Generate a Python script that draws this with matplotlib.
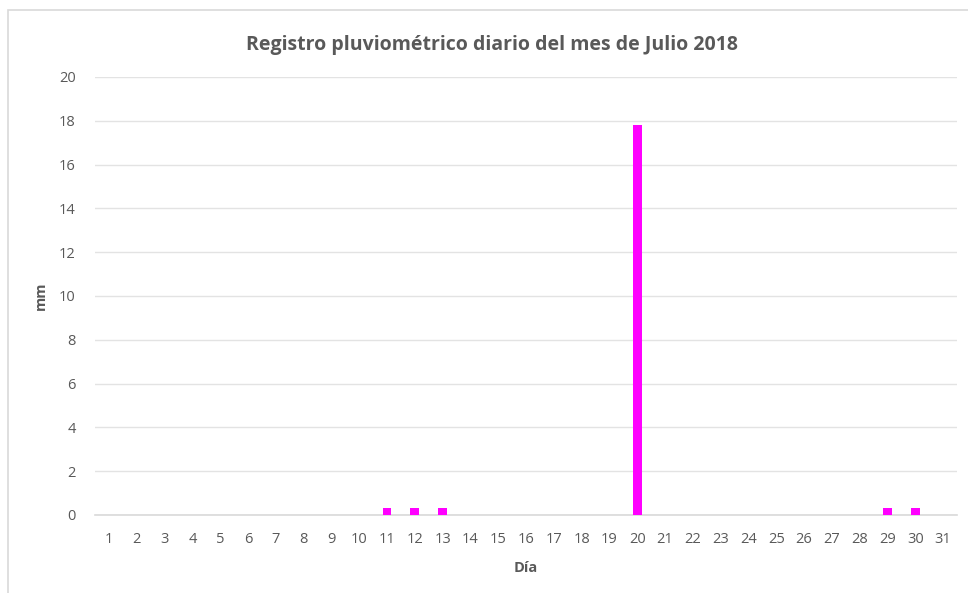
import matplotlib
matplotlib.use("Agg")
import matplotlib.pyplot as plt
from matplotlib.patches import Rectangle

days = list(range(1, 32))
rain_mm = [0]*31
rain_mm[10] = 0.3
rain_mm[11] = 0.3
rain_mm[12] = 0.3
rain_mm[19] = 17.8
rain_mm[28] = 0.3
rain_mm[29] = 0.3
y_ticks = list(range(0, 21, 2))

plt.rcParams['font.family'] = ['Open Sans', 'DejaVu Sans']

fig = plt.figure(figsize=(9.68, 5.93), dpi=100)
fig.patches.append(Rectangle((8/968, -0.1), 1.0, 1 - 10/593 + 0.1, transform=fig.transFigure,
                             fill=False, edgecolor='#d9d9d9', linewidth=1.2))
ax = fig.add_axes([95/968, 1 - 515/593, (957 - 95)/968, (515 - 77)/593])

ax.bar(days, rain_mm, width=0.32, color='#ff00ff', zorder=3)
ax.set_xlim(0.5, 31.5)
ax.set_ylim(0, 20)
ax.set_yticks(y_ticks)
ax.set_xticks(days)
ax.grid(axis='y', color='#e3e3e3', linewidth=1, zorder=0)
for s in ['top', 'right', 'left']:
    ax.spines[s].set_visible(False)
ax.spines['bottom'].set_color('#d9d9d9')
ax.spines['bottom'].set_linewidth(1.2)
ax.tick_params(axis='both', length=0, colors='#595959', labelsize=10.5)
ax.tick_params(axis='y', pad=14)
ax.tick_params(axis='x', pad=12)

ax.set_xlabel('Día', fontsize=10.5, fontweight='bold', color='#595959', labelpad=10)
ax.set_ylabel('mm', fontsize=10.5, fontweight='bold', color='#595959', labelpad=8)
fig.text(492/968, 1 - 45/593, 'Registro pluviométrico diario del mes de Julio 2018',
         ha='center', va='center', fontsize=14, fontweight='bold', color='#595959')

fig.savefig('out.png', dpi=100)
